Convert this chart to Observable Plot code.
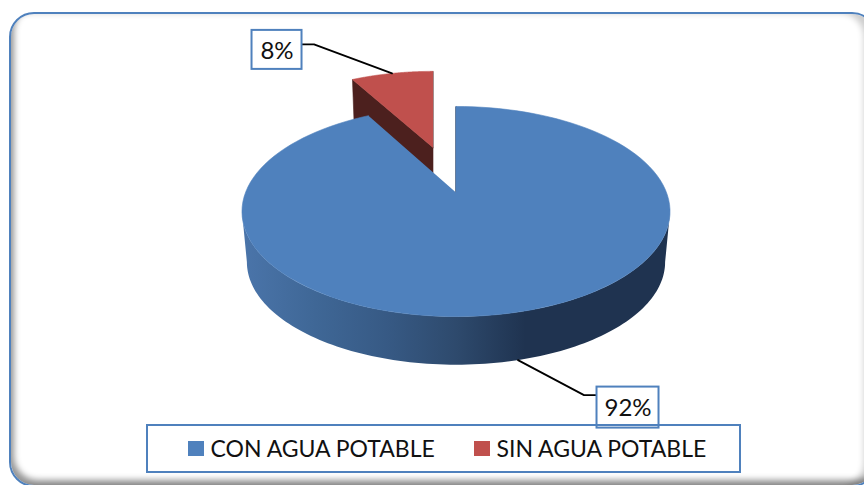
<!DOCTYPE html>
<html lang="es">
<head>
<meta charset="utf-8">
<script src="https://cdn.jsdelivr.net/npm/d3@7"></script>
<script src="https://cdn.jsdelivr.net/npm/@observablehq/plot@0.6"></script>
<style>
  html, body { margin: 0; padding: 0; background: #fff; overflow: hidden; }
  #stage { position: relative; width: 864px; height: 485px; overflow: hidden; }
  #frame {
    position: absolute; left: 9px; top: 12px; width: 868px; height: 475px;
    box-sizing: border-box; background: #fff;
    border: 2.5px solid #4f81bd; border-radius: 25px;
    box-shadow: inset 4px -6px 6px -1px rgba(0,0,0,.42), inset -12px 0 6px -1px rgba(0,0,0,.2);
  }
  #chart { position: absolute; left: 0; top: 0; }
  #chart svg { display: block; }
</style>
</head>
<body>
<div id="stage"><div id="frame"></div><div id="chart"></div></div>
<script>
// Data
const categories = ["CON AGUA POTABLE", "SIN AGUA POTABLE"];
const shares = [92, 8];
const labels = ["92%", "8%"];
const topColors = ["#4f81bd", "#c0504d"];
const cutColors = ["#1f3350", "#4c201e"];
const wallStops = ["#4a74a9", "#3f6796", "#375a85", "#2e4a6d", "#1f3350", "#1f3350", "#1f3350"];

// Projection of the tilted disc
const W = 864, H = 485;
const tilt = {a: 210.5, b: 101.6, k: 0.181};
const topPlane = [{cx: 455.5, cy: 192, sx: 1, sy: 1}, {cx: 432.5, cy: 147, sx: 0.92, sy: 0.885}];
const lowPlane = [{cx: 455.5, cy: 243, sx: 0.977, sy: 0.977}, {cx: 432.5, cy: 193, sx: 0.9, sy: 0.87}];
const project = (p, t) => {
  const w = 1 + tilt.k * Math.cos(t);
  return [p.cx + p.sx * tilt.a * Math.sin(t) / w, p.cy - p.sy * tilt.b * Math.cos(t) / w];
};
const angles = d3.pie().sort(null).startAngle(0).endAngle(2 * Math.PI)(shares);
const range = (a, b, n) => d3.range(n + 1).map(i => a + (b - a) * i / n);
const poly = (id, color, pts) => pts.map(([x, y]) => ({id, color, x, y}));

// Top faces, cut faces and outer wall
const faces = [], cuts = [];
angles.forEach((a, i) => {
  const top = topPlane[i], low = lowPlane[i];
  faces.push(...poly("top" + i, topColors[i],
    [[top.cx, top.cy], ...range(a.startAngle, a.endAngle, 120).map(t => project(top, t))]));
  cuts.push(...poly("cutEnd" + i, cutColors[i], [
    [top.cx, top.cy], project(top, a.endAngle), project(low, a.endAngle), [low.cx, low.cy]]));
  cuts.push(...poly("cutStart" + i, cutColors[i], [
    [top.cx, top.cy], project(top, a.startAngle), project(low, a.startAngle), [low.cx, low.cy]]));
});
// The visible wall runs between the two points where the disc is widest
const widest = Math.acos(-tilt.k);
const wallAngles = range(widest, 2 * Math.PI - widest, 120);
const wall = poly("wall", "", [
  ...wallAngles.map(t => project(topPlane[0], t)),
  ...wallAngles.slice().reverse().map(t => project(lowPlane[0], t))
]);
// Left to right shading of the wall, in plot coordinates
const wallDefs = (index, scales) => {
  const defs = d3.create("svg:defs");
  const g = defs.append("linearGradient").attr("id", "wallGrad")
    .attr("gradientUnits", "userSpaceOnUse")
    .attr("x1", scales.x(245)).attr("x2", scales.x(665)).attr("y1", 0).attr("y2", 0);
  wallStops.forEach((c, i) => g.append("stop").attr("offset", i / (wallStops.length - 1)).attr("stop-color", c));
  return defs.node();
};

// Labels hanging from each slice's mid angle
const mid = a => (a.startAngle + a.endAngle) / 2;
const anchorA = project(lowPlane[0], mid(angles[0]));
const anchorB = project(topPlane[1], mid(angles[1]));
const boxes = [
  {x1: anchorA[0] + 79, x2: anchorA[0] + 141, y1: anchorA[1] + 27, y2: anchorA[1] + 68, t: labels[0]},
  {x1: anchorB[0] - 140, x2: anchorB[0] - 90, y1: anchorB[1] - 43, y2: anchorB[1] - 4, t: labels[1]}
];
const leaders = [
  ...poly("la", "#000", [anchorA, [anchorA[0] + 66, boxes[0].y1 + 8], [boxes[0].x1, boxes[0].y1 + 8]]),
  ...poly("lb", "#000", [anchorB, [boxes[1].x2 + 12, boxes[1].y1 + 14], [boxes[1].x2, boxes[1].y1 + 14]])
];

// Legend
const legendBox = [{x1: 147, x2: 740, y1: 425, y2: 472}];
const legendX = [188, 474];
const swatches = categories.map((c, i) => ({c, color: topColors[i], x1: legendX[i], x2: legendX[i] + 16, y1: 441, y2: 456, tx: legendX[i] + 22}));

const font = "Lato, 'Open Sans', sans-serif";
const shape = {x: "x", y: "y", z: "id", curve: "linear"};
const plot = Plot.plot({
  width: W, height: H,
  marginTop: 0, marginRight: 0, marginBottom: 0, marginLeft: 0,
  style: {background: "transparent"},
  x: {domain: [0, W], range: [0, W], axis: null},
  y: {domain: [0, H], range: [0, H], axis: null},
  color: {type: "identity"},
  marks: [
    wallDefs,
    Plot.line(cuts.filter(d => d.id.endsWith("1")), {...shape, fill: "color", stroke: "color", strokeWidth: 0.6}),
    Plot.line(faces.filter(d => d.id === "top1"), {...shape, fill: "color", stroke: "color", strokeWidth: 0.6}),
    Plot.line(wall, {...shape, fill: "url(#wallGrad)", stroke: "none"}),
    Plot.line(cuts.filter(d => d.id === "cutStart0"), {...shape, fill: "color", stroke: "color", strokeWidth: 0.8}),
    Plot.line(faces.filter(d => d.id === "top0"), {...shape, fill: "color", stroke: "color", strokeWidth: 0.6}),
    Plot.line(leaders, {...shape, stroke: "#000", strokeWidth: 1.8}),
    Plot.rect(boxes, {x1: "x1", x2: "x2", y1: "y1", y2: "y2", fill: "#fff", stroke: "#4f81bd", strokeWidth: 2}),
    Plot.text(boxes, {x: d => (d.x1 + d.x2) / 2, y: d => (d.y1 + d.y2) / 2 + 1, text: "t", fontSize: 24, fontFamily: font, fill: "#111"}),
    Plot.rect(legendBox, {x1: "x1", x2: "x2", y1: "y1", y2: "y2", fill: "none", stroke: "#4f81bd", strokeWidth: 2}),
    Plot.rect(swatches, {x1: "x1", x2: "x2", y1: "y1", y2: "y2", fill: "color"}),
    Plot.text(swatches, {x: "tx", y: 449, text: "c", textAnchor: "start", fontSize: 23, fontFamily: font, fill: "#111"})
  ]
});
document.getElementById("chart").appendChild(plot);
</script>
</body>
</html>
